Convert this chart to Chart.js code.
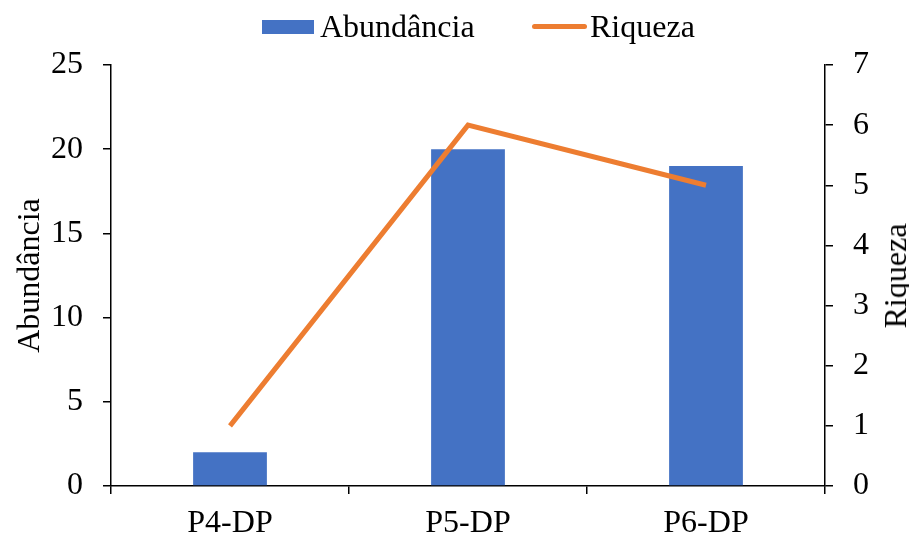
<!DOCTYPE html>
<html>
<head>
<meta charset="utf-8">
<script src="https://cdn.jsdelivr.net/npm/chart.js@4"></script>
<style>
  html, body { margin: 0; padding: 0; background: #fff; }
  #wrap { position: relative; width: 909px; height: 535px; }
  canvas { position: absolute; left: 0; top: 0; }
  .lg { position: absolute; font-family: "Liberation Serif", "Times New Roman", serif; font-size: 32px; color: #000; line-height: 32px; white-space: nowrap; }
  #rt { position: absolute; left: 895px; top: 276px; transform: translate(-50%, -50%) rotate(-90deg); font-family: "Liberation Serif", "Times New Roman", serif; font-size: 32px; line-height: 32px; color: #000; white-space: nowrap; }
</style>
</head>
<body>
<div id="wrap">
  <canvas id="c" width="909" height="535"></canvas>
  <div class="lg" style="left:262px;top:20px;width:52px;height:14px;background:#4472C4;"></div>
  <div class="lg" id="lg1" style="left:320px;top:10px;"></div>
  <div class="lg" style="left:532px;top:24px;width:55px;height:5px;background:#ED7D31;border-radius:2.5px;"></div>
  <div class="lg" id="lg2" style="left:590px;top:10px;"></div>
  <div id="rt"></div>
</div>
<script>
const categories = ["P4-DP", "P5-DP", "P6-DP"];
const abundancia = [2, 20, 19];
const riqueza = [1, 6, 5];
const seriesNames = ["Abundância", "Riqueza"];

document.getElementById('lg1').textContent = seriesNames[0];
document.getElementById('lg2').textContent = seriesNames[1];
document.getElementById('rt').textContent = seriesNames[1];

const FONT = { family: '"Liberation Serif", "Times New Roman", serif', size: 32 };
const black = '#000';

new Chart(document.getElementById('c'), {
  data: {
    labels: categories,
    datasets: [
      {
        type: 'line',
        label: seriesNames[1],
        data: riqueza,
        yAxisID: 'y1',
        borderColor: '#ED7D31',
        backgroundColor: '#ED7D31',
        borderWidth: 5,
        pointRadius: 0,
        tension: 0,
        order: 0
      },
      {
        type: 'bar',
        label: seriesNames[0],
        data: abundancia,
        yAxisID: 'y',
        backgroundColor: '#4472C4',
        categoryPercentage: 1,
        barPercentage: 0.31,
        order: 1
      }
    ]
  },
  options: {
    responsive: false,
    animation: false,
    layout: { padding: { top: 65, left: 0, right: 0, bottom: 0 } },
    plugins: { legend: { display: false }, tooltip: { enabled: false } },
    scales: {
      x: {
        offset: true,
        grid: { offset: true, drawOnChartArea: false, drawTicks: true, tickLength: 8, color: black, lineWidth: 1.5 },
        border: { display: true, color: black, width: 1.5 },
        ticks: { color: black, font: FONT, padding: 10, maxRotation: 0 },
        afterFit: s => { s.height = 49; }
      },
      y: {
        position: 'left',
        min: 0, max: 25,
        ticks: { stepSize: 5, color: black, font: FONT, padding: 20 },
        grid: { drawOnChartArea: false, drawTicks: true, tickLength: 8, color: black, lineWidth: 1.5 },
        border: { display: true, color: black, width: 1.5 },
        title: { display: true, text: seriesNames[0], color: black, font: FONT, padding: { top: 11, bottom: 0 } },
        afterFit: s => { s.width = 111; }
      },
      y1: {
        position: 'right',
        min: 0, max: 7,
        ticks: { stepSize: 1, color: black, font: FONT, padding: 20 },
        grid: { drawOnChartArea: false, drawTicks: true, tickLength: 8, color: black, lineWidth: 1.5 },
        border: { display: true, color: black, width: 1.5 },
        title: { display: false },
        afterFit: s => { s.width = 84; }
      }
    }
  }
});
</script>
</body>
</html>
